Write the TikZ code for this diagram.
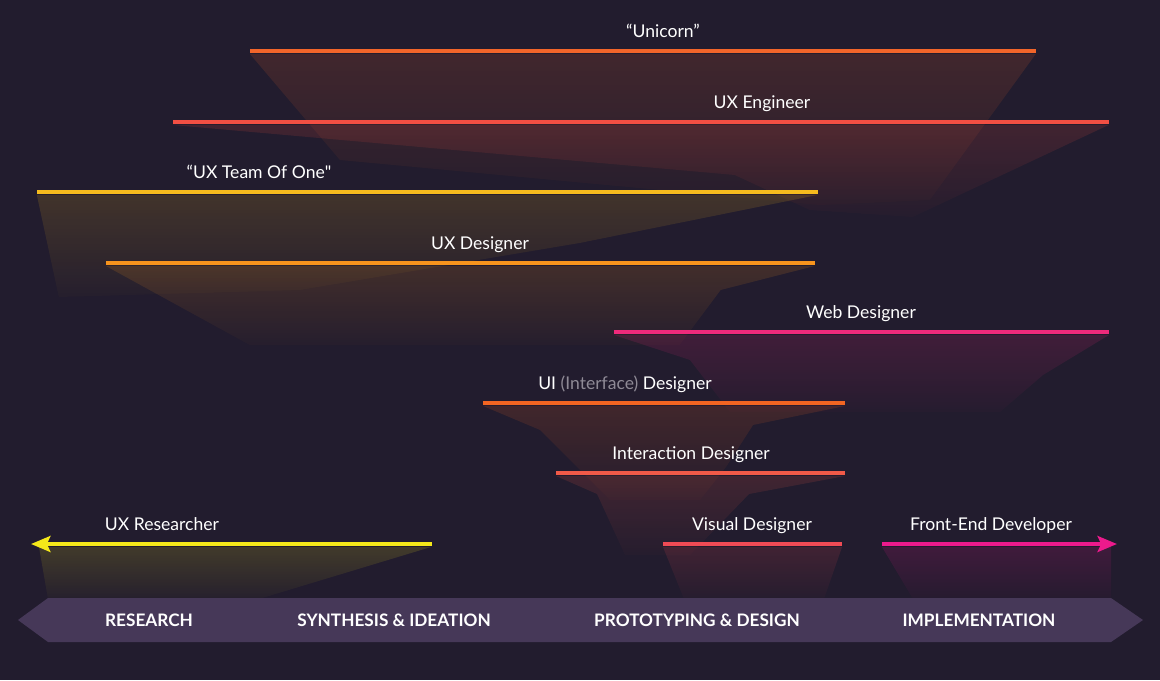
\documentclass[tikz,border=0pt]{standalone}
\usepackage{fontspec}
\setmainfont{Lato}
\newfontfamily\plainquote{Lato}
\usepackage{tikz}
\usetikzlibrary{arrows.meta,fadings}
\definecolor{bgcolor}{RGB}{34,28,46}
\definecolor{unicorncolor}{RGB}{242,101,42}
\definecolor{engineercolor}{RGB}{242,79,67}
\definecolor{teamcolor}{RGB}{246,187,30}
\definecolor{uxdesigncolor}{RGB}{247,148,29}
\definecolor{webcolor}{RGB}{238,42,123}
\definecolor{uicolor}{RGB}{242,101,34}
\definecolor{interactcolor}{RGB}{241,90,72}
\definecolor{visualcolor}{RGB}{240,75,85}
\definecolor{frontendcolor}{RGB}{236,26,140}
\definecolor{researchcolor}{RGB}{245,232,26}
\definecolor{phasecolor}{RGB}{70,56,88}
\definecolor{phasedark}{RGB}{48,39,64}
\definecolor{dimtext}{RGB}{143,138,150}
\tikzfading[name=glow fade, top color=transparent!85, bottom color=transparent!98]
\pgfdeclarehorizontalshading{phaseshade}{100bp}{color(0bp)=(phasedark); color(9bp)=(phasecolor); color(88bp)=(phasecolor); color(100bp)=(phasedark)}
\tikzset{
  role bar/.style={
    line width=2.8pt
  },
  role glow/.style={
    path fading=glow fade
  },
  role tip/.style={
    -{Stealth[length=11pt, width=9pt, inset=2pt]}
  },
  role label/.style={
    anchor=base,
    text=white,
    inner sep=0pt,
    font=\fontsize{10}{12}\selectfont
  },
  phase label/.style={
    text=white,
    inner sep=0pt,
    font=\fontsize{9.8}{12}\selectfont\bfseries
  }
}

\begin{document}
\begin{tikzpicture}[x=0.02cm, y=-0.02cm]

  % Background
  \fill[bgcolor] (0,0) rectangle (1160,680);

  % Glows below the bars
  \fill[unicorncolor, role glow] (250,54) -- (1036,54) -- (930,200) -- (820,205) -- (340,160) -- cycle;
  \fill[engineercolor, role glow] (173,125) -- (1109,125) -- (913,217) -- (810,210) -- (735,175) -- cycle;
  \fill[teamcolor, role glow] (37,195) -- (818,195) -- (580,243) -- (300,290) -- (59,297) -- cycle;
  \fill[uxdesigncolor, role glow] (106,266) -- (815,266) -- (721,290) -- (680,345) -- (250,345) -- cycle;
  \fill[webcolor, role glow] (614,335) -- (1109,335) -- (1043,375) -- (1000,412) -- (730,412) -- (690,360) -- cycle;
  \fill[uicolor, role glow] (483,406) -- (845,406) -- (753,425) -- (726,467) -- (700,500) -- (610,500) -- (540,430) -- cycle;
  \fill[interactcolor, role glow] (556,476) -- (845,476) -- (749,494) -- (690,555) -- (625,555) -- (597,494) -- cycle;
  \fill[visualcolor, role glow] (663,547) -- (842,547) -- (824,599) -- (684,599) -- cycle;
  \fill[frontendcolor, role glow] (882,547) -- (1111,547) -- (1111,599) -- (913,599) -- cycle;
  \fill[researchcolor, role glow] (39,547) -- (431,547) -- (259,599) -- (48,599) -- cycle;

  % Role bars
  \foreach \c/\xa/\xb/\y in {unicorncolor/250/1036/51, engineercolor/173/1109/122,
      teamcolor/37/818/192, uxdesigncolor/106/815/263, webcolor/614/1109/332,
      uicolor/483/845/403, interactcolor/556/845/473, visualcolor/663/842/544} {
    \draw[role bar, \c] (\xa,\y) -- (\xb,\y);
  }
  \draw[role bar, role tip, researchcolor] (432,544) -- (31,544);
  \draw[role bar, role tip, frontendcolor] (882,544) -- (1117,544);

  % Role labels
  \node[role label] (unicorn) at (663,37) {“Unicorn”};
  \node[role label] (engineer) at (762,108) {UX Engineer};
  \node[role label] (teamofone) at (259,178) {“UX Team Of One{\plainquote"}};
  \node[role label] (uxdesigner) at (480,249) {UX Designer};
  \node[role label] (webdesigner) at (861,318) {Web Designer};
  \node[role label] (uidesigner) at (625,389) {UI {\color{dimtext}(Interface)} Designer};
  \node[role label] (interaction) at (691,459) {Interaction Designer};
  \node[role label] (visual) at (752,530) {Visual Designer};
  \node[role label] (frontend) at (991,530) {Front-End Developer};
  \node[role label] (researcher) at (162,530) {UX Researcher};

  % Phase arrow
  \shade[shading=phaseshade] (48,598) -- (1111,598) -- (1143,620) -- (1111,642) -- (48,642) -- (18,620) -- cycle;
  \node[phase label] (research) at (149,620) {RESEARCH};
  \node[phase label] (synthesis) at (394,620) {SYNTHESIS \& IDEATION};
  \node[phase label] (prototyping) at (697,620) {PROTOTYPING \& DESIGN};
  \node[phase label] (implementation) at (979,620) {IMPLEMENTATION};

\end{tikzpicture}
\end{document}
